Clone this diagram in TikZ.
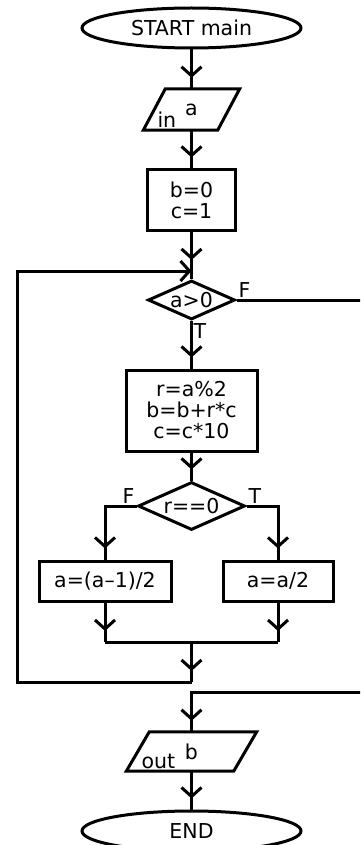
\documentclass[tikz,border=0pt]{standalone}
\usepackage{fontspec}
\setmainfont{DejaVu Sans}
\usetikzlibrary{shapes.geometric, arrows.meta, decorations.markings}

\tikzset{
  every node/.style={font=\fontsize{20.5}{21}\selectfont},
  line/.style={line width=3pt},
  flow/.style={line, postaction={decorate},
    decoration={markings, mark=at position -11pt with {\arrow{Straight Barb[length=9pt,width=20pt]}}}},
  terminal/.style={draw, line width=3pt, ellipse, inner sep=0pt, minimum width=219pt, minimum height=40pt},
  process/.style={draw, line width=3pt, rectangle, align=center, inner sep=0pt},
  decision/.style={draw, line width=3pt, diamond, aspect=2.2, inner sep=0pt},
  io/.style={rectangle, inner sep=0pt},
}

\begin{document}
\begin{tikzpicture}[x=1pt, y=-1pt]
        \clip (0,0) rectangle (360,845);
        \useasboundingbox (0,0) rectangle (360,845);
        % main column at x=191.5
        \node[terminal] (start) at (191.5,28) {START main};
        \node[io, minimum width=74pt, minimum height=41pt] (inA) at (191.5,109.5) {a};
        \node[anchor=base west, inner sep=0pt] (inlbl) at ([xshift=3pt,yshift=3pt]inA.south west) {in};
        \node[process, minimum width=88pt, minimum height=60pt] (init) at (191.5,200) {b=0\\c=1};
        \node[decision, minimum width=87pt, minimum height=39pt] (test) at (191.5,300) {a>0};
        \node[process, minimum width=131pt, minimum height=81pt] (body) at (191.5,410.5) {r=a\%2\\b=b+r*c\\c=c*10};
        \node[decision, minimum width=107pt, minimum height=48pt] (check) at (191.5,506) {r==0};
        \node[process, minimum width=132pt, minimum height=40pt] (odd) at (105,581) {a=(a--1)/2};
        \node[process, minimum width=110pt, minimum height=40pt] (even) at (278,581) {a=a/2};
        \node[io, minimum width=107pt, minimum height=39pt] (outB) at (191.5,751.5) {b};
        \node[anchor=base west, inner sep=0pt] (outlbl) at ([xshift=3.5pt,yshift=3pt]outB.south west) {out};
        \node[terminal] (stop) at (191.5,831) {END};
        % input / output parallelograms, slant of 11pt each side
        \draw[line] ([xshift=11pt]inA.north west) -- ([xshift=11pt]inA.north east)
          -- ([xshift=-11pt]inA.south east) -- ([xshift=-11pt]inA.south west) -- cycle;
        \draw[line] ([xshift=11.5pt]outB.north west) -- ([xshift=11.5pt]outB.north east)
          -- ([xshift=-11.5pt]outB.south east) -- ([xshift=-11.5pt]outB.south west) -- cycle;
        % junctions and rails
        \coordinate (loopin) at (191.5,271);
        \coordinate (merge) at (191.5,642);
        \coordinate (loopout) at (191.5,682);
        \coordinate (exitin) at (191.5,692);
        \coordinate (leftrail) at (17,476);
        \coordinate (rightrail) at (372,476);
        % branch labels
        \node[anchor=south west, inner sep=2pt] (tF) at (test.east) {F};
        \node[anchor=north west, inner sep=2pt] (tT) at (test.south) {T};
        \node[anchor=south east, inner sep=2pt] (cF) at (check.west) {F};
        \node[anchor=south west, inner sep=2pt] (cT) at (check.east) {T};
        % connectors
        \draw[flow] (start.south) -- (inA.north);
        \draw[flow] (inA.south) -- (init.north);
        \draw[flow] (init.south) -- (loopin);
        \draw[line] (loopin) -- (test.north);
        \draw[flow] (test.south) -- (body.north);
        \draw[flow] (body.south) -- (check.north);
        \draw[flow] (check.west) -| (odd.north);
        \draw[flow] (check.east) -| (even.north);
        \draw[flow] (odd.south) -- (odd.south |- merge);
        \draw[flow] (even.south) -- (even.south |- merge);
        \draw[line] (odd.south |- merge) -- (even.south |- merge);
        \draw[flow] (merge) -- (loopout);
        % back to the loop test
        \draw[line, -{Straight Barb[length=9pt,width=20pt]}] (loopout) -- (loopout -| leftrail)
          -- (loopin -| leftrail) -- (loopin);
        % exit of the loop
        \draw[flow] (test.east) -- (test.east -| rightrail) -- (exitin -| rightrail)
          -- (exitin) -- (outB.north);
        \draw[flow] (outB.south) -- (stop.north);
      \end{tikzpicture}
\end{document}
